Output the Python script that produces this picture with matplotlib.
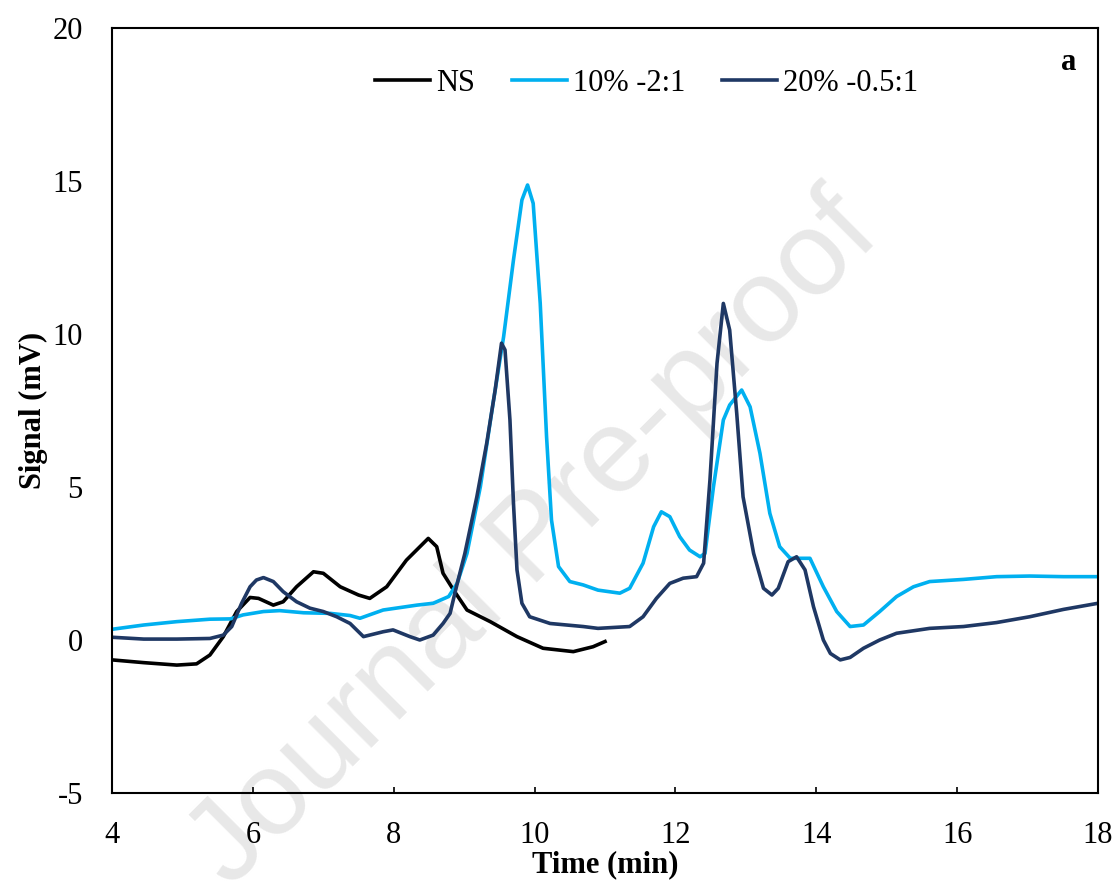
import matplotlib
matplotlib.use("Agg")
import matplotlib.pyplot as plt

# chromatogram traces (time in min, signal in mV)
ns_time = [4.0, 4.45, 4.92, 5.2, 5.39, 5.58, 5.77, 5.96, 6.08, 6.29, 6.43, 6.62,
           6.86, 7.0, 7.24, 7.5, 7.66, 7.9, 8.18, 8.49, 8.61, 8.7, 8.85, 9.04,
           9.37, 9.75, 10.12, 10.55, 10.83, 11.0]
ns_signal = [-0.65, -0.74, -0.82, -0.78, -0.49, 0.11, 0.93, 1.39, 1.36, 1.14, 1.25, 1.74,
             2.23, 2.18, 1.74, 1.47, 1.36, 1.74, 2.61, 3.32, 3.05, 2.18, 1.63, 0.98,
             0.6, 0.11, -0.27, -0.38, -0.22, -0.05]

s10_time = [4.0, 4.45, 4.92, 5.39, 5.68, 5.86, 6.15, 6.38, 6.72, 7.1, 7.38, 7.52,
            7.85, 8.33, 8.56, 8.78, 8.9, 9.04, 9.23, 9.41, 9.56, 9.7, 9.82, 9.9,
            9.98, 10.08, 10.17, 10.24, 10.34, 10.5, 10.69, 10.9, 11.21, 11.35, 11.54,
            11.69, 11.8, 11.92, 12.06, 12.2, 12.35, 12.42, 12.54, 12.68, 12.77, 12.94,
            13.06, 13.2, 13.34, 13.48, 13.63, 13.91, 14.1, 14.29, 14.48, 14.67, 14.9,
            15.14, 15.38, 15.61, 16.09, 16.56, 17.03, 17.51, 18.0]
s10_signal = [0.35, 0.49, 0.6, 0.68, 0.69, 0.82, 0.93, 0.96, 0.89, 0.87, 0.8, 0.71,
              0.98, 1.14, 1.2, 1.42, 1.85, 2.83, 5.01, 7.73, 9.91, 12.42, 14.38, 14.87,
              14.27, 11.0, 6.64, 3.92, 2.4, 1.91, 1.8, 1.63, 1.53, 1.69, 2.51,
              3.7, 4.19, 4.03, 3.38, 2.94, 2.72, 2.83, 5.01, 7.19, 7.68, 8.17,
              7.62, 6.1, 4.14, 3.05, 2.67, 2.67, 1.74, 0.93, 0.44, 0.49, 0.93,
              1.42, 1.74, 1.91, 1.98, 2.07, 2.09, 2.07, 2.07]

s20_time = [4.0, 4.45, 4.92, 5.39, 5.58, 5.7, 5.84, 5.96, 6.05, 6.15, 6.29, 6.43,
            6.62, 6.81, 7.0, 7.19, 7.38, 7.57, 7.85, 7.99, 8.23, 8.37, 8.56, 8.7,
            8.8, 8.89, 9.01, 9.18, 9.32, 9.44, 9.53, 9.58, 9.65, 9.7, 9.75, 9.82,
            9.93, 10.22, 10.69, 10.9, 11.35, 11.54, 11.73, 11.92, 12.11, 12.3, 12.4,
            12.49, 12.59, 12.68, 12.77, 12.87, 12.96, 13.11, 13.25, 13.37, 13.46,
            13.6, 13.72, 13.84, 13.96, 14.1, 14.2, 14.34, 14.48, 14.67, 14.9, 15.14,
            15.61, 16.09, 16.56, 17.03, 17.51, 18.0]
s20_signal = [0.09, 0.03, 0.03, 0.05, 0.16, 0.44, 1.2, 1.74, 1.96, 2.04, 1.91, 1.58,
              1.25, 1.04, 0.93, 0.76, 0.54, 0.11, 0.27, 0.33, 0.11, 0.0, 0.16, 0.54,
              0.87, 1.74, 2.83, 4.68, 6.43, 8.17, 9.7, 9.48, 7.19, 4.47, 2.29, 1.2,
              0.76, 0.54, 0.44, 0.38, 0.44, 0.76, 1.36, 1.85, 2.02, 2.07, 2.51,
              5.23, 9.04, 11.0, 10.13, 7.41, 4.68, 2.83, 1.69, 1.47, 1.69,
              2.56, 2.72, 2.29, 1.09, 0.0, -0.44, -0.65, -0.57, -0.27, 0.0, 0.22,
              0.38, 0.44, 0.57, 0.76, 1.0, 1.2]

plt.rcParams['font.family'] = ['Liberation Serif', 'DejaVu Serif']
plt.rcParams['axes.unicode_minus'] = False

fig = plt.figure(figsize=(11.17, 8.9), dpi=100)
ax = fig.add_axes([0.1003, 0.109, 0.8827, 0.8595])

lw = 2.6
ax.plot(ns_time, ns_signal, color='black', lw=lw, label='NS', solid_joinstyle='round')
ax.plot(s10_time, s10_signal, color='#00B0F0', lw=lw, label='10% -2:1', solid_joinstyle='round')
ax.plot(s20_time, s20_signal, color='#1F3864', lw=lw, label='20% -0.5:1', solid_joinstyle='round')

ax.set_xlim(4, 18)
ax.set_ylim(-5, 20)
ax.set_xticks(range(4, 19, 2))
ax.set_yticks(range(-5, 21, 5))
ax.tick_params(axis='x', direction='in', length=4, width=1.2, labelsize=22, pad=20)
ax.tick_params(axis='y', length=0, labelsize=22, pad=21)
for s in ax.spines.values():
    s.set_linewidth(1.5)

ax.set_xlabel('Time (min)', fontsize=22, fontweight='bold', labelpad=0)
ax.set_ylabel('Signal (mV)', fontsize=22, fontweight='bold', labelpad=3)

ax.legend(loc='center', bbox_to_anchor=(0.542, 0.928), ncol=3, frameon=False,
          fontsize=22, handlelength=1.8, handletextpad=0.2, columnspacing=1.2)
ax.text(0.970, 0.955, 'a', transform=ax.transAxes, fontsize=22, fontweight='bold',
        ha='center', va='center')

# watermark
ax.text(0.479, 0.391, 'Journal Pre-proof', transform=fig.transFigure, rotation=45,
        fontsize=86, color='#e8e8e8', family='Liberation Sans', ha='center', va='center',
        zorder=0.5, clip_on=False)

fig.savefig('out.png', dpi=100)
